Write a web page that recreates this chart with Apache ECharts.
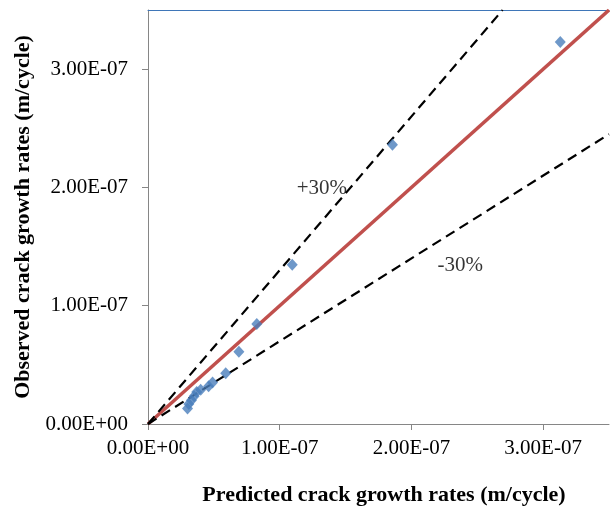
<!DOCTYPE html>
<html>
<head>
<meta charset="utf-8">
<script src="https://cdn.jsdelivr.net/npm/echarts@6/dist/echarts.min.js"></script>
<style>
  html, body { margin: 0; padding: 0; background: #fff; }
  #chart { width: 610px; height: 511px; }
</style>
</head>
<body>
<div id="chart"></div>
<script>
// Predicted vs observed crack growth rates (m/cycle)
const predicted = [3.13e-7, 1.856e-7, 1.095e-7, 0.826e-7, 0.69e-7, 0.59e-7,
                   0.49e-7, 0.46e-7, 0.40e-7, 0.37e-7, 0.35e-7, 0.33e-7, 0.31e-7, 0.30e-7];
const observed  = [3.23e-7, 2.36e-7, 1.347e-7, 0.845e-7, 0.61e-7, 0.43e-7,
                   0.35e-7, 0.32e-7, 0.29e-7, 0.27e-7, 0.235e-7, 0.20e-7, 0.17e-7, 0.13e-7];
const axisMax = 3.5e-7;
const tickValues = [0, 1e-7, 2e-7, 3e-7];
const bandRatios = [1.3, 0.7];
const bandLabels = ['+30%', '-30%'];
const bandLabelPos = [[1.32e-7, 1.99e-7], [2.37e-7, 1.34e-7]];

function sci(v) {
  const s = Number(v).toExponential(2).toUpperCase();
  const m = s.match(/^(-?[\d.]+)E([+-])(\d+)$/);
  return m[1] + 'E' + m[2] + m[3].padStart(2, '0');
}

// line through the origin with slope r, clipped to the square extent
function ratioLine(r) {
  return r >= 1 ? [[0, 0], [axisMax / r, axisMax]] : [[0, 0], [axisMax, axisMax * r]];
}

const FONT = '"Liberation Serif", "Times New Roman", serif';
const axisCommon = {
  type: 'value', min: 0, max: axisMax, interval: 1e-7,
  splitLine: { show: false },
  axisLine: { show: true, lineStyle: { color: '#868686', width: 1 } },
  axisTick: { show: true, length: 6, customValues: tickValues, lineStyle: { color: '#868686' } },
  axisLabel: { customValues: tickValues, formatter: sci, color: '#000', fontFamily: FONT, fontSize: 21, margin: 20 },
  nameLocation: 'middle',
  nameTextStyle: { color: '#000', fontFamily: FONT, fontSize: 22, fontWeight: 'bold' }
};

const chart = echarts.init(document.getElementById('chart'));
chart.setOption({
  animation: false,
  grid: { left: 148, top: 10, width: 461, height: 417, show: false },
  xAxis: [
    Object.assign({}, axisCommon, {
      name: 'Predicted crack growth rates (m/cycle)', nameGap: 60,
      nameTextStyle: Object.assign({}, axisCommon.nameTextStyle, { padding: [0, 0, 0, 11] }),
      axisLabel: Object.assign({}, axisCommon.axisLabel, { margin: 14 })
    }),
    { type: 'value', position: 'top', min: 0, max: axisMax,
      axisLine: { show: true, lineStyle: { color: '#3f76b8', width: 1 } },
      axisTick: { show: false }, axisLabel: { show: false }, splitLine: { show: false } }
  ],
  yAxis: Object.assign({}, axisCommon, {
    name: 'Observed crack growth rates (m/cycle)', nameGap: 114
  }),
  series: [
    {
      type: 'line', data: ratioLine(1), symbol: 'none', z: 2,
      lineStyle: { color: '#c0504d', width: 3.5 }
    },
    ...bandRatios.map(r => ({
      type: 'line', data: ratioLine(r), symbol: 'none', z: 3,
      lineStyle: { color: '#000', width: 2.2, type: [10, 6] }
    })),
    {
      type: 'scatter', z: 4,
      data: predicted.map((p, i) => [p, observed[i]]),
      symbol: 'diamond', symbolSize: [11, 12],
      itemStyle: { color: '#4a7ebb' }
    },
    {
      type: 'scatter', z: 5, symbolSize: 0, silent: true,
      data: bandLabelPos.map((p, i) => ({ value: p, name: bandLabels[i] })),
      label: {
        show: true, position: 'inside', formatter: '{b}',
        color: '#000', fontFamily: FONT, fontSize: 21
      }
    }
  ]
});
</script>
</body>
</html>
